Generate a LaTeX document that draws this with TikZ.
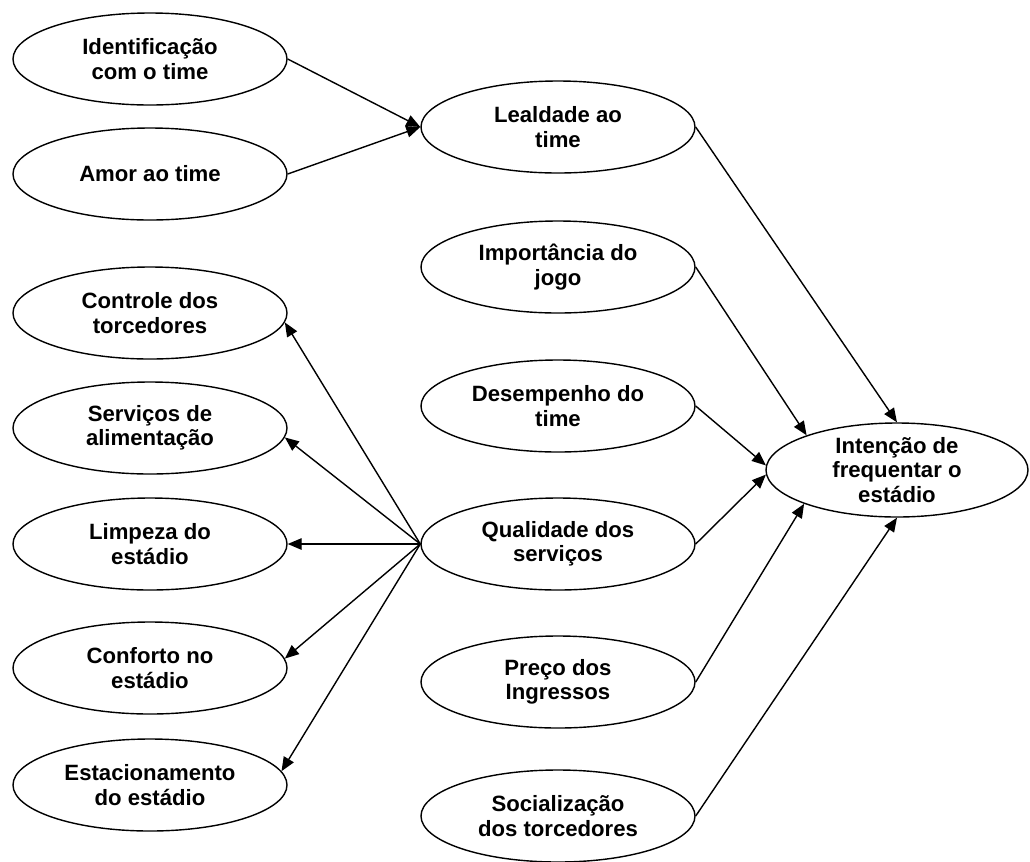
\documentclass[tikz,border=0pt]{standalone}
\usepackage{fontspec}
\setmainfont{Liberation Sans}
\usetikzlibrary{shapes.geometric,arrows.meta}
\tikzset{
  var/.style ={ellipse, draw=black, line width=.8pt, fill=white, align=center, inner sep=0pt,
               minimum width=54.8mm, minimum height=18.4mm, font=\fontsize{12.6}{13.8}\selectfont\bfseries},
  varc/.style={var, minimum width=52.4mm, minimum height=18.8mm},
  ln/.style  ={draw=black, line width=.8pt, -{Triangle[length=2.8mm,width=2.3mm]}},
}

\begin{document}
\begin{tikzpicture}
    \useasboundingbox (0,0) rectangle (20.6,-17.22);
    \def\xL{3} \def\xM{11.16}
    % antecedentes
    \node[var] (idt)   at (\xL,-1.18)  {Identificação\\com o time};
    \node[var] (amor)  at (\xL,-3.48)  {Amor ao time};
    \node[var] (ctrl)  at (\xL,-6.26)  {Controle dos\\torcedores};
    \node[var] (serv)  at (\xL,-8.56)  {Serviços de\\alimentação};
    \node[var] (limp)  at (\xL,-10.88) {Limpeza do\\estádio};
    \node[var] (conf)  at (\xL,-13.36) {Conforto no\\estádio};
    \node[var] (estac) at (\xL,-15.70) {Estacionamento\\do estádio};

    \node[var] (leal)  at (\xM,-2.54)  {Lealdade ao\\time};
    \node[var] (imp)   at (\xM,-5.34)  {Importância do\\jogo};
    \node[var] (desp)  at (\xM,-8.12)  {Desempenho do\\time};
    \node[var] (qual)  at (\xM,-10.88) {Qualidade dos\\serviços};
    \node[var] (preco) at (\xM,-13.64) {Preço dos\\Ingressos};
    \node[var] (soc)   at (\xM,-16.32) {Socialização\\dos torcedores};

    \node[varc] (tgt)  at (17.94,-9.40) {Intenção de\\frequentar o\\estádio};

    \draw[ln] (idt.east)  -- (leal.west);
    \draw[ln] (amor.east) -- (leal.west);
    \foreach \n/\a in {ctrl/-4,serv/-4,limp/0,conf/4,estac/6} \draw[ln] (qual.west) -- (\n.\a);

    \draw[ln] (leal.east)  -- (tgt.north);
    \draw[ln] (imp.east)   -- (tgt.159);
    \draw[ln] (desp.east)  -- (tgt.178);
    \draw[ln] (qual.east)  -- (tgt.182);
    \draw[ln] (preco.east) -- (tgt.200);
    \draw[ln] (soc.east)   -- (tgt.south);
  \end{tikzpicture}
\end{document}
